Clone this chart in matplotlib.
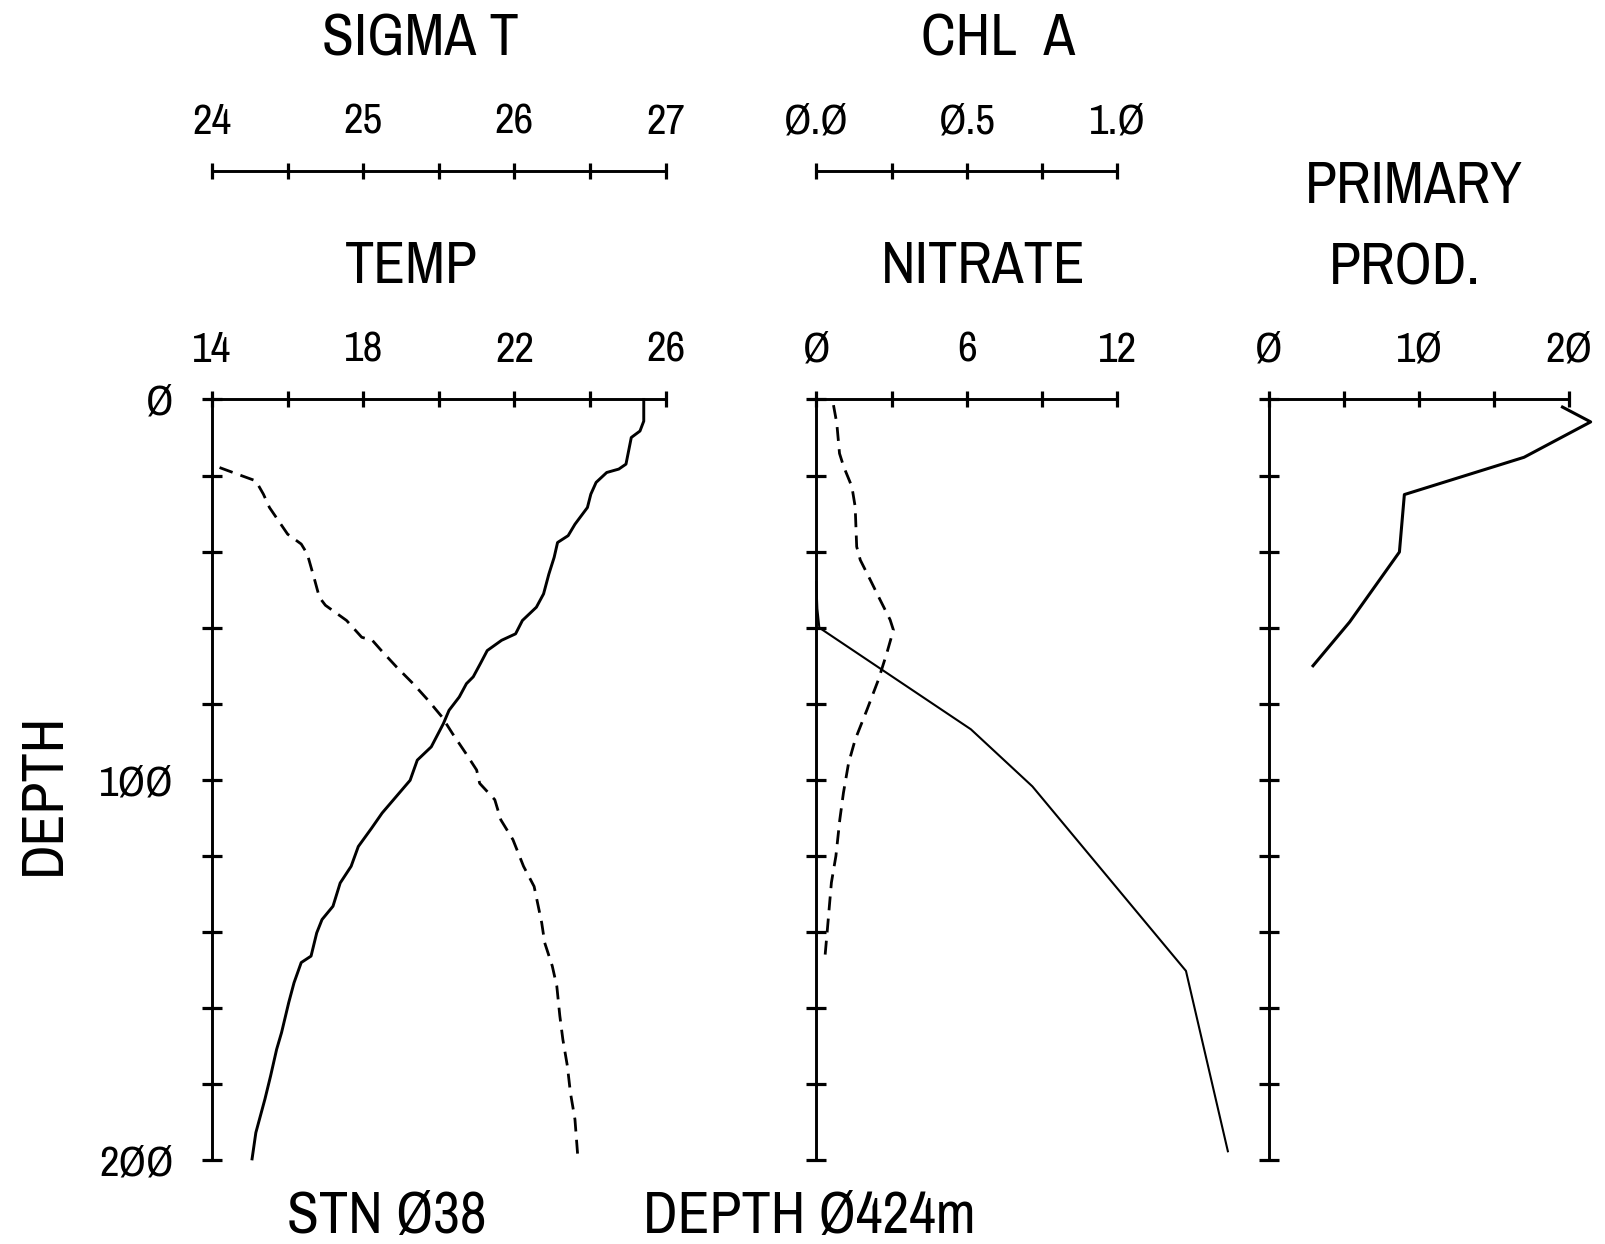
import matplotlib
matplotlib.use('Agg')
import matplotlib.pyplot as plt
from matplotlib import font_manager as fm

# --- profile data (depth in m) ---
temp_depth = [0, 5.7, 8.3, 10, 17, 18.3, 19.2, 21.8, 24.9, 28.4, 32.8, 35.8, 37.6, 41.5, 45.9, 51.1,
              54.6, 58.1, 61.6, 63.3, 66, 69.4, 72.9, 74.7, 78.2, 81.7, 85.2, 91.3, 94.8, 100.1, 104.4,
              108.7, 112.7, 117.5, 122.7, 127.1, 133.2, 136.7, 140.2, 146.3, 148, 153.3, 158.5, 166.4,
              170.8, 177.8, 183.9, 192.7, 199.6]
temp = [25.42, 25.42, 25.32, 25.09, 24.95, 24.76, 24.44, 24.16, 24.02, 23.93, 23.6, 23.42, 23.14, 23.05,
        22.91, 22.77, 22.58, 22.21, 22.03, 21.66, 21.28, 21.1, 20.91, 20.73, 20.54, 20.27, 20.12, 19.8,
        19.43, 19.24, 18.87, 18.5, 18.22, 17.87, 17.68, 17.39, 17.2, 16.91, 16.77, 16.62, 16.36, 16.17,
        16.03, 15.84, 15.71, 15.55, 15.4, 15.16, 15.06]

sigma_depth = [17.9, 20.1, 21.4, 24.9, 28.4, 35.4, 38, 40.6, 47.6, 52, 54.1, 58.1, 62.5, 63.3, 66, 70.3,
               74.7, 79.1, 83.4, 87.8, 93.1, 97.4, 100.9, 105.2, 110.5, 115.7, 122.7, 128, 137.5, 142.8,
               148.9, 154.2, 162, 168.2, 175.2, 182.2, 189.2, 199.6]
sigma = [24.05, 24.2, 24.29, 24.34, 24.38, 24.5, 24.59, 24.63, 24.68, 24.71, 24.75, 24.89, 24.99, 25.06,
         25.12, 25.22, 25.33, 25.43, 25.52, 25.59, 25.68, 25.75, 25.77, 25.87, 25.91, 25.99, 26.06, 26.13,
         26.18, 26.2, 26.25, 26.28, 26.3, 26.32, 26.35, 26.37, 26.4, 26.42]

nitrate_depth = [48, 55, 60, 86.7, 101.7, 150.2, 197.6]
nitrate = [0.0, 0.04, 0.12, 6.16, 8.61, 14.73, 16.4]

chl_depth = [1.5, 6.3, 14.2, 17.7, 22.9, 28.2, 38.7, 42.2, 47.4, 52.7, 57.9, 60.6, 66.7, 73.7, 81.6,
             89.4, 95.6, 103.4, 110.4, 120, 127, 139, 148]
chl = [0.057, 0.068, 0.077, 0.091, 0.118, 0.129, 0.134, 0.146, 0.179, 0.212, 0.245, 0.256, 0.234, 0.206,
       0.168, 0.129, 0.107, 0.09, 0.078, 0.065, 0.05, 0.037, 0.027]

pp_depth = [2, 5.9, 15.2, 25, 40.1, 58.5, 70]
pp = [19.56, 21.44, 17.0, 9.02, 8.69, 5.37, 2.93]

depth_ticks = list(range(0, 201, 20))
depth_labels = {0: 'Ø', 100: '1ØØ', 200: '2ØØ'}

# condensed face if one is installed
cands = [f for f in fm.fontManager.ttflist
         if ('Narrow' in f.name or 'Condensed' in f.name or str(f.stretch) in ('condensed', 'semi-condensed'))
         and f.style == 'normal' and str(f.weight) in ('400', 'normal', 'regular', 'book')]
cands.sort(key=lambda f: (0 if 'Liberation' in f.name else 1, f.name))
FONT = cands[0].fname if cands else None


def fp(size):
    if FONT:
        return fm.FontProperties(fname=FONT, size=size)
    return fm.FontProperties(family='DejaVu Sans', size=size * 0.8)


TICK = 31
BIG = 42
LW = 2.1
DASH = (0, (5, 3))

fig = plt.figure(figsize=(16.06, 12.44), dpi=100)


def panel(rect, xlim, major, labels, minor, ylabels):
    ax = fig.add_axes(rect)
    ax.set_ylim(200, 0)
    ax.set_xlim(*xlim)
    ax.set_xticks(major)
    ax.set_xticklabels(labels, fontproperties=fp(TICK))
    ax.set_xticks(minor, minor=True)
    ax.set_yticks(depth_ticks)
    if ylabels:
        ax.set_yticklabels([depth_labels.get(d, '') for d in depth_ticks], fontproperties=fp(TICK))
    else:
        ax.set_yticklabels([])
    for s in ['right', 'bottom']:
        ax.spines[s].set_visible(False)
    for s in ['left', 'top']:
        ax.spines[s].set_linewidth(LW)
    ax.tick_params(axis='x', which='both', top=True, bottom=False, labeltop=True, labelbottom=False,
                   direction='inout', length=12, width=2.3, pad=16)
    ax.tick_params(axis='y', which='both', direction='inout', length=15, width=2.3, pad=20)
    ax.patch.set_visible(False)
    return ax


def top_scale(ax, xlim, major, labels, minor):
    tw = ax.twiny()
    tw.set_xlim(*xlim)
    tw.spines['top'].set_position(('axes', 1.30))
    tw.spines['top'].set_linewidth(LW)
    for s in ['left', 'right', 'bottom']:
        tw.spines[s].set_visible(False)
    tw.set_xticks(major)
    tw.set_xticklabels(labels, fontproperties=fp(TICK))
    tw.set_xticks(minor, minor=True)
    tw.tick_params(axis='x', which='both', top=True, bottom=False, labeltop=True, labelbottom=False,
                   direction='inout', length=12, width=2.3, pad=16)
    return tw


# temperature / sigma-t
ax1 = panel([0.1320, 0.0672, 0.2825, 0.6117], (14, 26), [14, 18, 22, 26], ['14', '18', '22', '26'],
            [16, 20, 24], True)
tw1 = top_scale(ax1, (24, 27), [24, 25, 26, 27], ['24', '25', '26', '27'], [24.5, 25.5, 26.5])
ax1.tick_params(axis='x', which='both', top=True, bottom=False, labeltop=True, labelbottom=False)
ax1.plot(temp, temp_depth, color='black', lw=2.1, clip_on=False, solid_joinstyle='round')
tw1.plot(sigma, sigma_depth, color='black', lw=2.0, ls=DASH, clip_on=False)

# nitrate / chl a
ax2 = panel([0.5083, 0.0672, 0.1875, 0.6117], (0, 12), [0, 6, 12], ['Ø', '6', '12'], [3, 9], False)
tw2 = top_scale(ax2, (0, 1), [0, 0.5, 1.0], ['Ø.Ø', 'Ø.5', '1.Ø'], [0.25, 0.75])
ax2.tick_params(axis='x', which='both', top=True, bottom=False, labeltop=True, labelbottom=False)
ax2.plot(nitrate, nitrate_depth, color='black', lw=1.5, clip_on=False)
tw2.plot(chl, chl_depth, color='black', lw=2.0, ls=DASH, clip_on=False)

# primary production
ax3 = panel([0.7902, 0.0672, 0.1868, 0.6117], (0, 20), [0, 10, 20], ['Ø', '1Ø', '2Ø'], [5, 15], False)
ax3.plot(pp, pp_depth, color='black', lw=2.2, clip_on=False)

# headings
fig.text(0.2615, 0.9686, 'SIGMA T', ha='center', va='center', fontproperties=fp(BIG))
fig.text(0.6218, 0.9686, 'CHL  A', ha='center', va='center', fontproperties=fp(BIG))
fig.text(0.2564, 0.7859, 'TEMP', ha='center', va='center', fontproperties=fp(BIG))
fig.text(0.6122, 0.7859, 'NITRATE', ha='center', va='center', fontproperties=fp(BIG))
fig.text(0.8801, 0.8502, 'PRIMARY', ha='center', va='center', fontproperties=fp(BIG))
fig.text(0.8750, 0.7843, 'PROD.', ha='center', va='center', fontproperties=fp(BIG))
fig.text(0.0268, 0.3619, 'DEPTH', ha='center', va='center', rotation=90, fontproperties=fp(BIG))
fig.text(0.2411, 0.0219, 'STN Ø38', ha='center', va='center', fontproperties=fp(BIG))
fig.text(0.5038, 0.0219, 'DEPTH Ø424m', ha='center', va='center', fontproperties=fp(BIG))

fig.savefig('out.png', dpi=100)
